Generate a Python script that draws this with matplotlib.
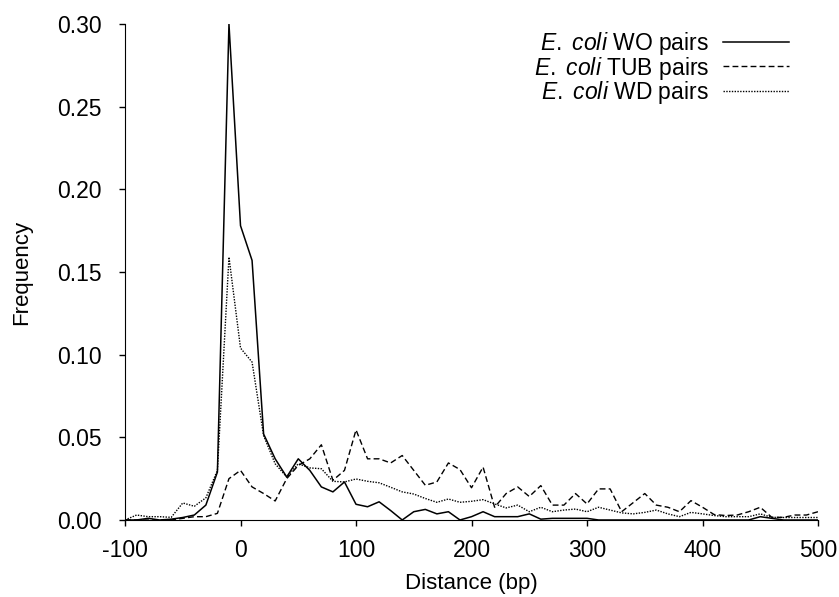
import matplotlib
matplotlib.use("Agg")
import matplotlib.pyplot as plt

plt.rcParams["font.family"] = ["Liberation Sans", "DejaVu Sans"]
plt.rcParams["mathtext.fontset"] = "custom"
plt.rcParams["mathtext.rm"] = "Liberation Sans"
plt.rcParams["mathtext.it"] = "Liberation Sans:italic"
plt.rcParams["axes.unicode_minus"] = False

distance = [-100, -90, -80, -70, -60, -50, -40, -30, -20, -10,
            0, 10, 20, 30, 40, 50, 60, 70, 80, 90,
            100, 110, 120, 130, 140, 150, 160, 170, 180, 190,
            200, 210, 220, 230, 240, 250, 260, 270, 280, 290,
            300, 310, 320, 330, 340, 350, 360, 370, 380, 390,
            400, 410, 420, 430, 440, 450, 460, 470, 480, 490, 500]

wo_pairs = [0, 0, 0.001, 0, 0.0005, 0.0015, 0.003, 0.009, 0.029, 0.300,
            0.178, 0.157, 0.052, 0.037, 0.026, 0.037, 0.030, 0.020, 0.017, 0.023,
            0.0095, 0.008, 0.011, 0.0057, 0, 0.005, 0.0064, 0.0037, 0.005, 0,
            0.002, 0.005, 0.002, 0.002, 0.002, 0.0037, 0.0005, 0.001, 0.001, 0.001,
            0.001, 0, 0, 0, 0, 0, 0, 0, 0, 0,
            0, 0, 0, 0, 0, 0.002, 0.001, 0, 0, 0, 0]

tub_pairs = [0, 0, 0, 0, 0, 0.001, 0.002, 0.002, 0.004, 0.025,
             0.030, 0.020, 0.016, 0.0115, 0.025, 0.033, 0.037, 0.0455, 0.024, 0.030,
             0.0545, 0.037, 0.037, 0.0345, 0.039, 0.030, 0.021, 0.023, 0.0345, 0.0305,
             0.0195, 0.032, 0.0077, 0.016, 0.020, 0.0142, 0.0208, 0.009, 0.009, 0.016,
             0.0097, 0.0188, 0.0188, 0.005, 0.0105, 0.016, 0.009, 0.0077, 0.005, 0.0117,
             0.0077, 0.0033, 0.0027, 0.003, 0.005, 0.0077, 0.0016, 0.0016, 0.003, 0.003, 0.005]

wd_pairs = [0, 0.003, 0.002, 0.002, 0.0016, 0.0103, 0.0083, 0.0134, 0.030, 0.159,
            0.104, 0.0955, 0.051, 0.034, 0.026, 0.034, 0.0315, 0.031, 0.0234, 0.023,
            0.0248, 0.0234, 0.0225, 0.0198, 0.017, 0.0157, 0.013, 0.0107, 0.0127, 0.0107,
            0.0113, 0.0123, 0.0097, 0.0073, 0.009, 0.005, 0.0077, 0.005, 0.006, 0.0066,
            0.005, 0.0077, 0.006, 0.0043, 0.0037, 0.0046, 0.006, 0.0037, 0.002, 0.0046,
            0.0037, 0.0027, 0.002, 0.002, 0.002, 0.0037, 0.0016, 0.0015, 0.0015, 0.0015, 0.0015]

labels = [r"$\mathit{E.\ coli}$ WO pairs",
          r"$\mathit{E.\ coli}$ TUB pairs",
          r"$\mathit{E.\ coli}$ WD pairs"]
x_ticks = [-100, 0, 100, 200, 300, 400, 500]
y_ticks = [0.00, 0.05, 0.10, 0.15, 0.20, 0.25, 0.30]


def plot_distance_frequency() -> None:
    fig = plt.figure(figsize=(8.39, 5.97), dpi=100)
    ax = fig.add_axes([0.1490, 0.1290, 0.8260, 0.8308])

    ax.plot(distance, wo_pairs, color="black", lw=1.1, label=labels[0])
    ax.plot(distance, tub_pairs, color="black", lw=1.0, dashes=(4.2, 2.3), label=labels[1])
    ax.plot(distance, wd_pairs, color="black", lw=1.0, dashes=(1, 1), label=labels[2])

    ax.set_xlim(-100, 500)
    ax.set_ylim(0, 0.30)
    ax.set_xticks(x_ticks)
    ax.set_yticks(y_ticks)
    ax.set_yticklabels([f"{v:.2f}" for v in y_ticks])
    ax.tick_params(labelsize=16.5, length=4.5, width=1, direction="out")
    ax.tick_params(axis="x", pad=9)
    ax.tick_params(axis="y", pad=12)
    for side in ("top", "right"):
        ax.spines[side].set_visible(False)
    ax.set_xlabel("Distance (bp)", fontsize=16, labelpad=8)
    ax.set_ylabel("Frequency", fontsize=16, labelpad=18)

    # rows sit tighter than the font height, as in the original figure
    leg = ax.legend(loc="upper right", bbox_to_anchor=(0.975, 1.01), frameon=False,
                    fontsize=16.5, markerfirst=False, handlelength=2.9,
                    handletextpad=0.6, labelspacing=-0.13, borderpad=0)
    leg._legend_box._children[-1]._children[0].align = "right"

    fig.savefig("out.png", dpi=100)
    plt.close(fig)


if __name__ == "__main__":
    plot_distance_frequency()
